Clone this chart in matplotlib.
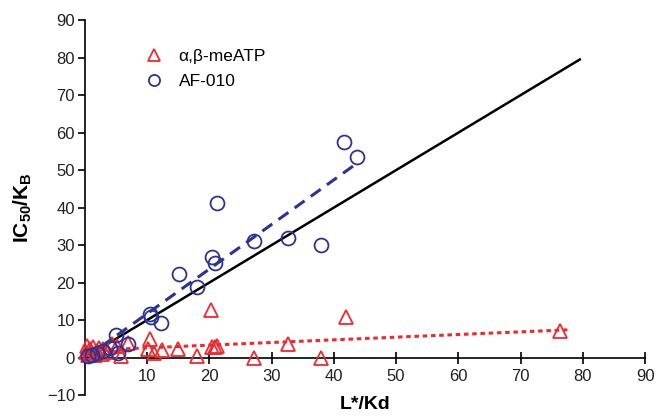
import numpy as np
import matplotlib.pyplot as plt

plt.rcParams['font.family'] = ['Liberation Sans', 'DejaVu Sans']
plt.rcParams['mathtext.fontset'] = 'custom'
plt.rcParams['mathtext.rm'] = 'Liberation Sans'
plt.rcParams['mathtext.bf'] = 'Liberation Sans:bold'

# AF-010 (blue circles)
af_x = [0.5, 1.2, 2.0, 3.0, 4.0, 5.0, 5.3, 6.9, 10.4, 10.6, 12.2,
        15.1, 18.0, 20.4, 20.9, 21.3, 27.1, 32.6, 38.0, 41.7, 43.7]
af_y = [0.3, 0.8, 1.2, 1.8, 2.6, 5.9, 1.3, 3.7, 11.7, 10.7, 9.1,
        22.4, 18.7, 26.7, 25.1, 41.3, 31.0, 32.0, 30.1, 57.5, 53.5]

# alpha,beta-meATP (red triangles)
ab_x = [0.2, 0.4, 0.5, 0.8, 1.0, 1.3, 1.6, 2.0, 2.3, 2.7, 3.0, 3.5, 4.3,
        5.1, 5.9, 6.9, 10.1, 10.4, 11.2, 12.4, 14.9, 18.0, 20.2, 20.4,
        20.9, 21.3, 27.1, 32.6, 38.0, 41.9, 76.4]
ab_y = [1.5, 3.2, 0.8, 2.2, 1.2, 2.8, 0.6, 1.8, 2.5, 1.0, 2.2, 1.5, 3.7,
        3.2, 0.5, 4.0, 2.4, 5.0, 1.1, 1.9, 2.4, 0.5, 12.7, 2.8,
        2.7, 3.0, 0.0, 3.7, 0.0, 10.9, 7.2]

# fitted lines (slope, intercept, x end)
unity_x = [0, 79.5]
af_fit = (1.19, -0.2, 44.0)
ab_fit = (0.071, 1.9, 78.0)

fig = plt.figure(figsize=(6.57, 4.19), dpi=100)
ax = fig.add_axes([0.129, 0.057, 0.853, 0.895])

ax.plot(unity_x, unity_x, color='black', lw=1.8, zorder=2)
fx = np.array([0, af_fit[2]])
ax.plot(fx, af_fit[0] * fx + af_fit[1], color='#2b3393', lw=2.2,
        linestyle=(0, (4, 2.5)), zorder=2)
fx = np.array([0, ab_fit[2]])
ax.plot(fx, ab_fit[0] * fx + ab_fit[1], color='#ee2a2f', lw=2.2,
        linestyle=(0, (1.5, 1.2)), zorder=2)

ax.plot(ab_x, ab_y, '^', ms=10, mfc='none', mec='#ee2a2f', mew=1.3,
        clip_on=False, zorder=3, label='α,β-meATP')
ax.plot(af_x, af_y, 'o', ms=10, mfc='none', mec='#2b3393', mew=1.3,
        clip_on=False, zorder=3, label='AF-010')

ax.set_xlim(0, 90)
ax.set_ylim(-10, 90)
ax.spines['right'].set_visible(False)
ax.spines['top'].set_visible(False)
ax.spines['bottom'].set_position(('data', 0))
ax.spines['left'].set_linewidth(1.2)
ax.spines['bottom'].set_linewidth(1.2)

ax.set_xticks(np.arange(10, 91, 10))
ax.set_yticks(np.arange(-10, 91, 10))
ax.tick_params(axis='x', direction='inout', length=8, width=1.2,
               labelsize=12, pad=4, labelcolor='#222222')
ax.tick_params(axis='y', direction='out', length=5, width=1.2,
               labelsize=12, pad=2, labelcolor='#222222')

ax.set_ylabel(r'$\mathbf{IC_{50}/K_{B}}$', fontsize=15, labelpad=9)
ax.text(45, -12.5, 'L*/Kd', fontsize=14, fontweight='bold',
        ha='center', va='center')

leg = ax.legend(loc='upper left', bbox_to_anchor=(0.065, 0.965), frameon=False,
                fontsize=12.5, handletextpad=0.4, labelspacing=0.55,
                markerscale=0.8)

fig.savefig('out.png', dpi=100)
